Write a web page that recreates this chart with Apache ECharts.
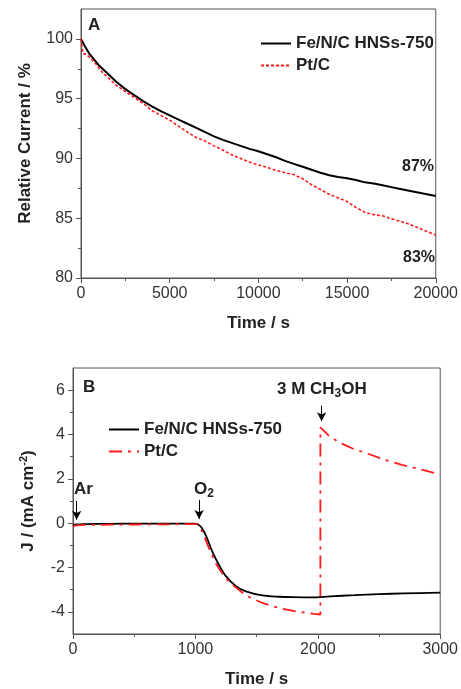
<!DOCTYPE html>
<html><head><meta charset="utf-8">
<script src="https://cdn.jsdelivr.net/npm/echarts@6/dist/echarts.min.js"></script>
<style>html,body{margin:0;padding:0;background:#fff}#c{width:461px;height:689px}</style>
</head><body><div id="c"></div>
<script>
// ---- Panel A: chronoamperometric stability ----
const timeFeA = [0,250,500,1000,1500,2000,2500,3000,3500,4000,4500,5000,5500,6000,6500,7000,7500,8000,8500,9000,9500,10000,10500,11000,11500,12000,12500,13000,13500,14000,14500,15000,15500,16000,16500,17000,17500,18000,18500,19000,19500,20000];
const feA = [100,99.3,98.7,97.8,97.1,96.4,95.8,95.3,94.8,94.35,93.95,93.6,93.25,92.9,92.55,92.2,91.85,91.55,91.3,91.05,90.8,90.6,90.35,90.1,89.8,89.55,89.3,89.05,88.8,88.6,88.45,88.35,88.2,88.0,87.9,87.75,87.6,87.45,87.3,87.15,87.0,86.85];
const timePtA = [0,100,300,600,900,1200,1500,2000,2500,3000,3500,4000,4500,5000,5500,6000,6500,7000,7500,8000,8500,9000,9500,10000,10500,11000,11500,12000,12500,13000,13500,14000,14500,15000,15500,16000,16500,17000,17500,18000,18500,19000,19500,20000];
const ptA = [100,98.8,98.7,98.3,97.8,97.2,96.8,96.1,95.6,95.1,94.6,94.0,93.6,93.2,92.7,92.2,91.75,91.45,91.05,90.7,90.3,90.0,89.7,89.45,89.25,89.0,88.8,88.65,88.3,87.8,87.4,87.0,86.7,86.4,85.9,85.5,85.3,85.2,84.95,84.75,84.5,84.2,83.9,83.6];
const yTicksA = [80,85,90,95,100];
const yMinorA = [82.5,87.5,92.5,97.5];

// ---- Panel B: methanol tolerance ----
const timeFeB = [0,20,100,300,500,800,1000,1020,1050,1086,1140,1195,1249,1331,1412,1547,1683,1800,1954,2100,2300,2500,2700,3000];
const feB = [-0.12,-0.06,-0.04,-0.03,-0.02,-0.02,-0.02,-0.05,-0.2,-0.56,-1.31,-1.91,-2.39,-2.84,-3.08,-3.26,-3.32,-3.34,-3.35,-3.3,-3.25,-3.2,-3.17,-3.13];
const timePtB = [0,20,100,300,500,800,1000,1020,1059,1113,1168,1222,1276,1412,1547,1683,1819,1968,2021,2021,2090,2171,2280,2416,2552,2687,2823,3000];
const ptB = [-0.15,-0.1,-0.08,-0.07,-0.06,-0.05,-0.04,-0.06,-0.4,-1.16,-1.83,-2.28,-2.66,-3.26,-3.6,-3.83,-3.98,-4.09,-4.12,4.32,3.95,3.65,3.38,3.12,2.85,2.63,2.45,2.2];
const yTicksB = [-4,-2,0,2,4,6];
const yMinorB = [-3,-1,1,3,5];
// arrows: [time, from J, to J]
const arrowsB = [[30,1.0,0.15],[1030,1.05,0.19],[2031,5.3,4.6]];

const seriesNames = ['Fe/N/C HNSs-750','Pt/C'];
const FONT = '"Liberation Sans", Arial, Helvetica, sans-serif';
const AX = '#555';

function pairs(t, v){ return t.map((x,i)=>[x, v[i]]); }

function xAxis(grid, max, interval){
  return {gridIndex:grid, type:'value', min:0, max:max, interval:interval,
    name:'Time / s', nameLocation:'middle', nameGap:37,
    nameTextStyle:{fontFamily:FONT, fontWeight:'bold', fontSize:17, color:'#222'},
    axisLine:{onZero:false, lineStyle:{color:AX, width:1}},
    axisTick:{length:5, lineStyle:{color:AX}},
    minorTick:{show:true, splitNumber:2, length:3, lineStyle:{color:AX}},
    splitLine:{show:false}, minorSplitLine:{show:false},
    axisLabel:{fontFamily:FONT, fontSize:16, color:'#333', margin:8, formatter:function(v){return String(v);}}};
}
function yMain(grid, min, max, ticks, name, gap){
  return {gridIndex:grid, type:'value', position:'left', min:min, max:max,
    name:name, nameLocation:'middle', nameGap:gap,
    nameTextStyle:{fontFamily:FONT, fontWeight:'bold', fontSize:17, color:'#222',
      rich:{sup:{fontFamily:FONT, fontWeight:'bold', fontSize:11, color:'#222', padding:[0,0,10,0]}}},
    axisLine:{show:true, onZero:false, lineStyle:{color:AX, width:1}},
    axisTick:{show:true, length:5, customValues:ticks, lineStyle:{color:AX}},
    axisLabel:{fontFamily:FONT, fontSize:16, color:'#333', margin:8, customValues:ticks},
    splitLine:{show:false}};
}
function yMinor(grid, min, max, ticks){
  return {gridIndex:grid, type:'value', position:'left', offset:0, min:min, max:max,
    axisLine:{show:false, onZero:false}, axisLabel:{show:false}, splitLine:{show:false},
    axisTick:{show:true, length:3, customValues:ticks, lineStyle:{color:AX}}};
}
function legendBox(left, top, names){
  return {orient:'vertical', left:left, top:top, itemWidth:30, itemHeight:12, itemGap:5,
    data:names, itemStyle:{opacity:0},
    formatter:function(n){return n.trim();},
    textStyle:{fontFamily:FONT, fontWeight:'bold', fontSize:17, color:'#222', lineHeight:17}};
}

const chart = echarts.init(document.getElementById('c'), null, {renderer:'canvas'});
chart.setOption({
  animation:false,
  backgroundColor:'#fff',
  grid:[
    {left:81, top:9, width:357, height:269, show:true, borderColor:AX, borderWidth:1, backgroundColor:'transparent'},
    {left:73, top:368, width:369, height:269, show:true, borderColor:AX, borderWidth:1, backgroundColor:'transparent'}
  ],
  xAxis:[ xAxis(0,20000,5000), xAxis(1,3000,1000) ],
  yAxis:[
    yMain(0,80,102.5,yTicksA,'Relative Current / %',47),
    yMinor(0,80,102.5,yMinorA),
    yMain(1,-5,7,yTicksB,'J / (mA cm{sup|-2})',34),
    yMinor(1,-5,7,yMinorB)
  ],
  legend:[
    legendBox(255, 30, [seriesNames[0], seriesNames[1]]),
    legendBox(103, 416, [seriesNames[0], seriesNames[1]+' '])
  ],
  series:[
    {name:seriesNames[0], type:'line', xAxisIndex:0, yAxisIndex:0, data:pairs(timeFeA,feA),
     symbol:'none', lineStyle:{color:'#000', width:2}, itemStyle:{color:'#000'}},
    {name:seriesNames[1], type:'line', xAxisIndex:0, yAxisIndex:0, data:pairs(timePtA,ptA),
     symbol:'none', lineStyle:{color:'#ff1a1a', width:1.6, type:[3,2]}, itemStyle:{color:'#ff1a1a'}},
    {name:seriesNames[0], type:'line', xAxisIndex:1, yAxisIndex:2, data:pairs(timeFeB,feB),
     symbol:'none', smooth:0.3, lineStyle:{color:'#000', width:1.8}, itemStyle:{color:'#000'},
     markLine:{silent:true, symbol:['none','arrow'], symbolSize:[7,9], animation:false,
       lineStyle:{color:'#000', width:1, type:'solid'}, label:{show:false},
       data: arrowsB.map(a=>[{coord:[a[0],a[1]]},{coord:[a[0],a[2]]}])}},
    {name:seriesNames[1]+' ', type:'line', xAxisIndex:1, yAxisIndex:2, data:pairs(timePtB,ptB),
     symbol:'none', lineStyle:{color:'#ff1a1a', width:1.8, type:[13,6,3,6]}, itemStyle:{color:'#ff1a1a'}}
  ],
  graphic:[
    {type:'text', x:88, y:25, style:{text:'A', fontFamily:FONT, fontWeight:'bold', fontSize:17, fill:'#222', verticalAlign:'middle'}},
    {type:'text', x:402, y:167, style:{text:'87%', fontFamily:FONT, fontWeight:'bold', fontSize:16, fill:'#222', verticalAlign:'middle'}},
    {type:'text', x:403, y:258, style:{text:'83%', fontFamily:FONT, fontWeight:'bold', fontSize:16, fill:'#222', verticalAlign:'middle'}},
    {type:'text', x:83, y:387, style:{text:'B', fontFamily:FONT, fontWeight:'bold', fontSize:17, fill:'#222', verticalAlign:'middle'}},
    {type:'text', x:74, y:489, style:{text:'Ar', fontFamily:FONT, fontWeight:'bold', fontSize:17, fill:'#222', verticalAlign:'middle'}},
    {type:'text', x:194, y:489, style:{text:'O{sub|2}', fontFamily:FONT, fontWeight:'bold', fontSize:17, fill:'#222', verticalAlign:'middle',
      rich:{sub:{fontFamily:FONT, fontWeight:'bold', fontSize:12, fill:'#222', padding:[10,0,0,0]}}}},
    {type:'text', x:277, y:389, style:{text:'3 M CH{sub|3}OH', fontFamily:FONT, fontWeight:'bold', fontSize:17, fill:'#222', verticalAlign:'middle',
      rich:{sub:{fontFamily:FONT, fontWeight:'bold', fontSize:12, fill:'#222', padding:[10,0,0,0]}}}}
  ]
});
</script>
</body></html>
